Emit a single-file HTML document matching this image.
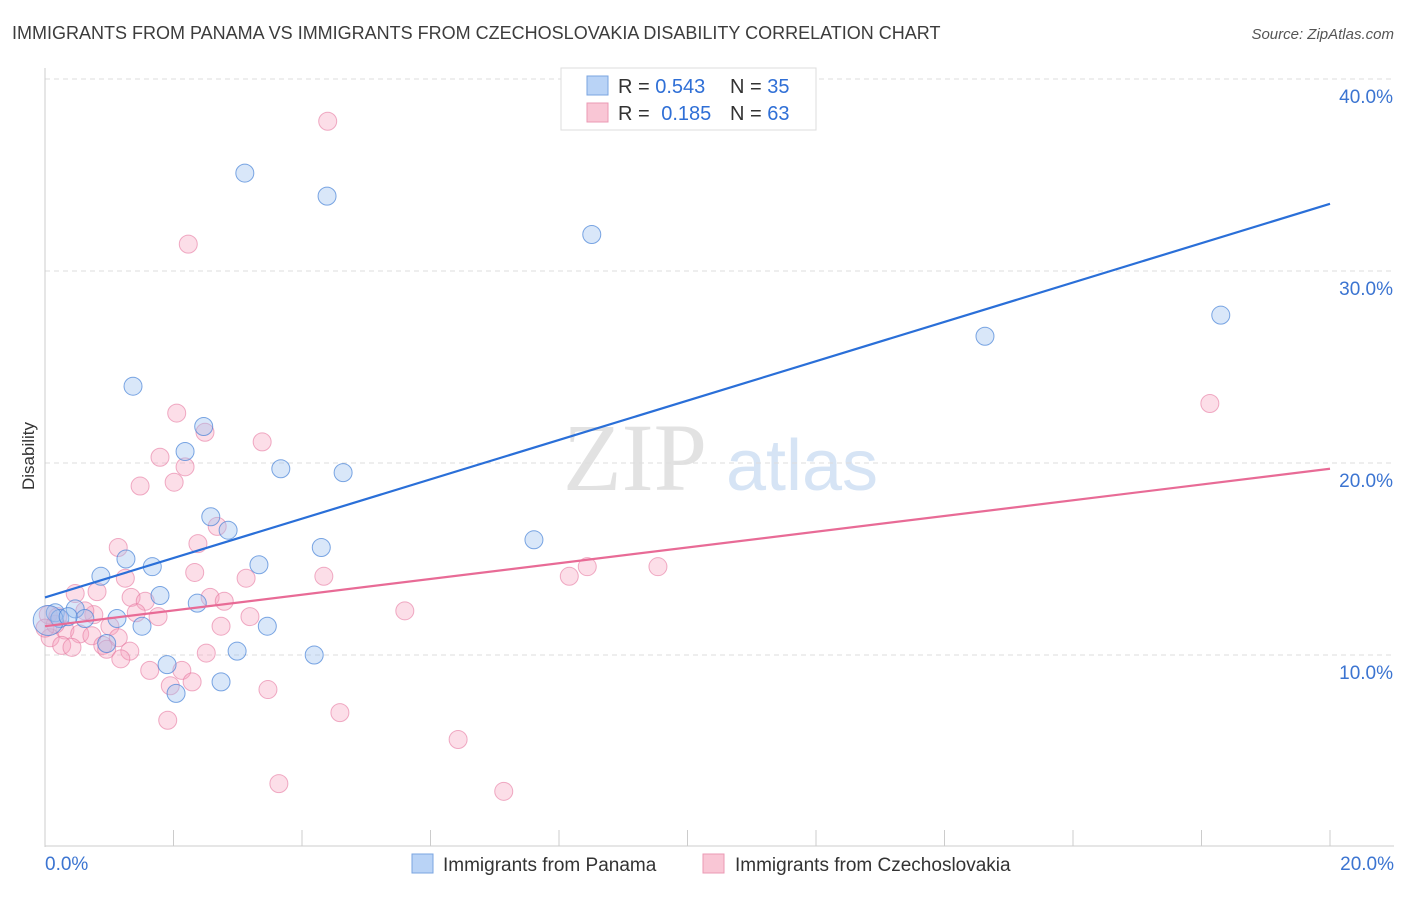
<!DOCTYPE html>
<html><head><meta charset="utf-8">
<style>
body{margin:0;background:#fff;font-family:"Liberation Sans",sans-serif;}
svg text{font-family:"Liberation Sans",sans-serif;}
</style></head>
<body>
<svg id="chart" width="1406" height="892" viewBox="0 0 1406 892" xmlns="http://www.w3.org/2000/svg">
<text x="12" y="39" font-size="18" fill="#3c3c3c">IMMIGRANTS FROM PANAMA VS IMMIGRANTS FROM CZECHOSLOVAKIA DISABILITY CORRELATION CHART</text>
<text x="1394" y="39" font-size="15" fill="#555" text-anchor="end" font-style="italic">Source: ZipAtlas.com</text>
<text x="34" y="456" font-size="17" fill="#333" text-anchor="middle" transform="rotate(-90 34 456)">Disability</text>
<g>
<text x="635" y="490" font-size="96" fill="#e2e2e2" text-anchor="middle" font-family="Liberation Serif" style="font-family:'Liberation Serif',serif">ZIP</text>
<text x="802" y="490" font-size="72" fill="#d6e4f5" text-anchor="middle">atlas</text>
</g>
<g id="grid"></g>
<g id="axes"></g>
<g id="pts"></g>
<g id="lines"></g>
<g>
<rect x="561" y="68" width="255" height="62" fill="#fff" stroke="#ddd"/>
<rect x="587" y="76" width="21" height="19" fill="#b9d3f6" stroke="#7aa5e0"/>
<rect x="587" y="103" width="21" height="19" fill="#f9c6d5" stroke="#eb9ab4"/>
<text x="618" y="93" font-size="20" fill="#333">R = <tspan fill="#2f6fd6">0.543</tspan></text>
<text x="730" y="93" font-size="20" fill="#333">N = <tspan fill="#2f6fd6">35</tspan></text>
<text x="618" y="120" font-size="20" fill="#333">R = <tspan fill="#2f6fd6" dx="6">0.185</tspan></text>
<text x="730" y="120" font-size="20" fill="#333">N = <tspan fill="#2f6fd6">63</tspan></text>
</g>
<g>
<rect x="412" y="854" width="21" height="19" fill="#b9d3f6" stroke="#7aa5e0"/>
<text x="443" y="871" font-size="19" fill="#333">Immigrants from Panama</text>
<rect x="703" y="854" width="21" height="19" fill="#f9c6d5" stroke="#eb9ab4"/>
<text x="735" y="871" font-size="19" fill="#333">Immigrants from Czechoslovakia</text>
</g>
</svg>
<script>
const yTicks=[10,20,30,40];
const yTickLabels=["10.0%","20.0%","30.0%","40.0%"];
const xTicks=[0,2,4,6,8,10,12,14,16,18,20];
const xLabels=["0.0%","20.0%"];
const blueX=[3.11,4.39,8.51,1.37,2.47,2.18,3.67,4.64,2.58,2.85,1.26,1.67,4.30,7.61,3.33,0.87,1.79,2.37,0.47,1.12,0.62,1.51,3.46,2.99,4.19,1.90,2.74,2.04,0.96,14.63,18.30,0.16,0.23,0.05,0.36];
const blueY=[35.1,33.9,31.9,24.0,21.9,20.6,19.7,19.5,17.2,16.5,15.0,14.6,15.6,16.0,14.7,14.1,13.1,12.7,12.4,11.9,11.9,11.5,11.5,10.2,10.0,9.5,8.6,8.0,10.6,26.6,27.7,12.2,11.9,11.8,12.0];
const pinkX=[4.40,2.23,2.05,2.49,3.38,1.79,2.18,1.48,2.01,18.13,2.68,2.38,1.14,8.16,8.44,9.54,4.34,3.13,1.25,2.33,0.47,0.81,1.34,1.56,2.57,2.79,1.42,1.76,3.19,5.60,0.76,1.01,2.74,0.31,0.54,0.73,1.14,0.08,0.26,0.42,0.90,0.96,1.32,1.18,2.51,1.63,2.13,1.95,2.29,3.47,1.91,4.59,6.43,3.64,7.14,0.05,0.16,0.20,0.62,0.00];
const pinkY=[37.8,31.4,22.6,21.6,21.1,20.3,19.8,18.8,19.0,23.1,16.7,15.8,15.6,14.1,14.6,14.6,14.1,14.0,14.0,14.3,13.2,13.3,13.0,12.8,13.0,12.8,12.2,12.0,12.0,12.3,12.1,11.5,11.5,11.3,11.1,11.0,10.9,10.9,10.5,10.4,10.5,10.3,10.2,9.8,10.1,9.2,9.2,8.4,8.6,8.2,6.6,7.0,5.6,3.3,2.9,12.1,11.6,12.0,12.3,11.4];
const blueTrend=[13.0,33.5];
const pinkTrend=[11.5,19.7];
const NS="http://www.w3.org/2000/svg";
const X0=45,X1=1330,Y0=847,PXY=19.2;
const sx=v=>X0+(v/20)*(X1-X0);
const sy=v=>Y0-v*PXY;
function mk(tag,attrs,parent){const e=document.createElementNS(NS,tag);for(const k in attrs)e.setAttribute(k,attrs[k]);parent.appendChild(e);return e;}
const grid=document.getElementById('grid'),axes=document.getElementById('axes'),pts=document.getElementById('pts'),lines=document.getElementById('lines');
yTicks.forEach((t,i)=>{
 const l=mk('line',{x1:X0,x2:1394,y1:sy(t),y2:sy(t),stroke:'#ddd','stroke-dasharray':'5,4'},grid);
 
 
 const tx=mk('text',{x:1393,y:sy(t)+24,'font-size':19,fill:'#3b74d1','text-anchor':'end'},grid);
 tx.textContent=yTickLabels[i];
 
 
});
const ya=mk('line',{x1:X0,x2:X0,y1:68,y2:847,stroke:'#ccc'},axes);


const xa=mk('line',{x1:X0,x2:1394,y1:846,y2:846,stroke:'#ccc'},axes);


xTicks.forEach(t=>{
 const l=mk('line',{x1:sx(t),x2:sx(t),y1:830,y2:846,stroke:'#ccc'},axes);
 
 
});
const xl0=mk('text',{x:45,y:870,'font-size':19,fill:'#3b74d1'},axes);xl0.textContent=xLabels[0];


const xl1=mk('text',{x:1394,y:870,'font-size':19,fill:'#3b74d1','text-anchor':'end'},axes);xl1.textContent=xLabels[1];


pinkX.forEach((v,i)=>{
 const c=mk('circle',{cx:sx(v),cy:sy(pinkY[i]),r:9,fill:'rgba(245,160,190,0.35)',stroke:'rgba(230,120,160,0.6)','stroke-width':1},pts);
 
 
});
blueX.forEach((v,i)=>{
 const c=mk('circle',{cx:sx(v),cy:sy(blueY[i]),r:i===33?15:9,fill:'rgba(160,195,240,0.4)',stroke:'rgba(70,130,215,0.7)','stroke-width':1},pts);
 
 
});
const bl=mk('line',{x1:sx(0),y1:sy(blueTrend[0]),x2:sx(20),y2:sy(blueTrend[1]),stroke:'#2a6fd8','stroke-width':2.2},lines);


const pl=mk('line',{x1:sx(0),y1:sy(pinkTrend[0]),x2:sx(20),y2:sy(pinkTrend[1]),stroke:'#e86b96','stroke-width':2.2},lines);


</script>
</body></html>
